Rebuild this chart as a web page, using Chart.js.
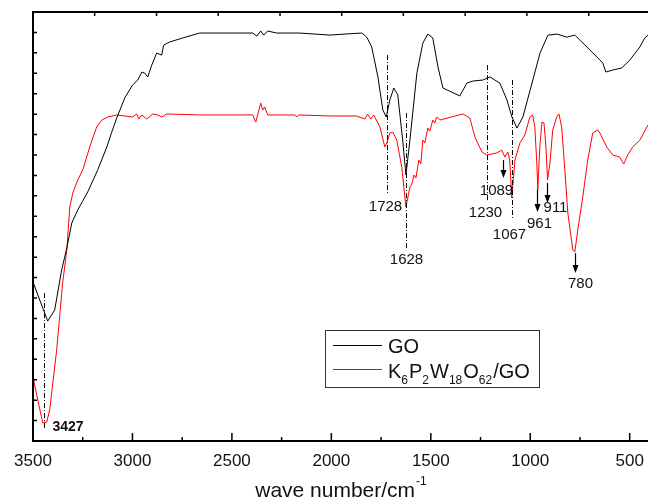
<!DOCTYPE html>
<html>
<head>
<meta charset="utf-8">
<script src="https://cdn.jsdelivr.net/npm/chart.js@4.4.0/dist/chart.umd.min.js"></script>
<style>
  html, body { margin: 0; padding: 0; background: #fff; }
  #grafico { display: block; }
</style>
</head>
<body>
<canvas id="grafico" width="648" height="501"></canvas>
<script>
// Espectro do GO: número de onda (cm-1) e transmitância relativa
const goX = [3500, 3466, 3426, 3391, 3356, 3330, 3305, 3275, 3225, 3175, 3129, 3104, 3079, 3039, 2999, 2973,
  2953, 2938, 2923, 2903, 2878, 2853, 2843, 2813, 2747, 2662, 2395, 2375, 2355, 2340, 2320, 2275, 2159, 2008,
  1933, 1847, 1822, 1797, 1766, 1741, 1724, 1706, 1686, 1666, 1640, 1625, 1605, 1570, 1540, 1515, 1490, 1464,
  1439, 1354, 1319, 1289, 1238, 1203, 1153, 1117, 1092, 1067, 1037, 987, 951, 911, 866, 816, 776, 751, 685,
  635, 620, 585, 540, 499, 449, 424, 408];
const goY = [7.78, 6.90, 5.87, 6.41, 8.37, 9.45, 10.67, 11.31, 12.19, 13.26, 14.39, 15.12, 15.81, 16.79, 17.43, 17.67,
  18.06, 18.01, 17.82, 18.40, 18.99, 18.89, 19.38, 19.53, 19.73, 19.97, 19.97, 19.82, 20.07, 19.87, 20.07, 19.97, 19.97, 19.87,
  19.92, 19.97, 19.77, 19.29, 17.82, 16.20, 15.86, 16.69, 17.28, 16.94, 14.59, 13.02, 14.73, 18.01, 19.48, 19.92, 19.73, 18.31,
  17.28, 16.89, 17.52, 17.62, 17.67, 17.82, 17.52, 16.69, 15.86, 15.32, 15.86, 17.67, 18.99, 19.87, 19.92, 19.77, 19.87, 19.63, 18.99,
  18.50, 18.06, 18.16, 18.26, 18.65, 19.29, 19.73, 19.87];

// Espectro do K6P2W18O62/GO
const hybridX = [3500, 3476, 3451, 3431, 3416, 3381, 3351, 3330, 3315, 3300, 3275, 3250, 3215, 3180, 3154, 3124,
  3079, 2999, 2979, 2968, 2953, 2928, 2898, 2873, 2853, 2827, 2662, 2395, 2380, 2355, 2345, 2335, 2320, 2184,
  2174, 2164, 2008, 1873, 1832, 1817, 1802, 1787, 1756, 1731, 1721, 1706, 1691, 1671, 1646, 1625, 1605, 1595,
  1585, 1575, 1560, 1550, 1540, 1530, 1515, 1505, 1490, 1480, 1470, 1455, 1339, 1304, 1278, 1243, 1218, 1168,
  1143, 1128, 1113, 1103, 1093, 1077, 1052, 1027, 1002, 988, 977, 967, 962, 952, 941, 931, 921, 913, 901, 887,
  867, 856, 842, 826, 811, 786, 776, 761, 736, 711, 686, 660, 650, 615, 585, 550, 530, 510, 485, 449, 408];
const hybridY = [3.13, 2.01, 0.88, 0.93, 1.52, 4.45, 7.73, 9.35, 11.45, 12.14, 12.78, 13.26, 14.39, 15.37, 15.71, 15.86,
  15.96, 15.86, 16.01, 15.76, 15.96, 15.76, 16.01, 15.96, 15.86, 16.01, 15.96, 15.96, 15.61, 16.54, 16.20, 16.35, 15.96, 15.96,
  15.86, 15.96, 15.91, 15.91, 15.76, 16.00, 15.76, 15.96, 15.37, 14.39, 14.59, 15.08, 15.12, 14.73, 13.41, 11.45, 12.43, 12.58,
  13.02, 12.87, 13.75, 13.56, 14.73, 14.59, 15.32, 15.17, 15.71, 15.57, 15.86, 15.71, 16.01, 15.81, 14.88, 14.15, 14.00, 14.10,
  14.24, 13.90, 14.15, 13.75, 11.89, 13.75, 14.59, 14.98, 15.86, 15.96, 15.37, 13.61, 12.29, 14.39, 15.61, 15.57, 14.39, 12.78, 13.61, 15.22,
  15.86, 16.01, 15.37, 13.26, 11.16, 9.35, 9.25, 10.33, 11.94, 13.75, 15.08, 15.22, 15.08, 14.39, 14.00, 13.90, 13.56, 14.00, 14.39, 14.73, 15.47];

const xTicks = [3500, 3000, 2500, 2000, 1500, 1000, 500];
const xMinorTicks = [3250, 2750, 2250, 1750, 1250, 750];
const topTicks = [3500, 3190, 2879, 2569, 2258, 1948, 1638, 1327, 1017, 706];

// Picos marcados: posição, início e fim da linha (ou seta)
const peakNames = ['3427', '1728', '1628', '1230', '1089', '1067', '961', '911', '780'];
const peakX = [3446, 1722, 1625, 1219, 1139, 1091, 965, 918, 775];
const peakTop = [7.24, 18.89, 16.05, 18.40, 13.75, 17.67, 12.29, 12.63, 9.20];
const peakBottom = [0.54, 12.14, 9.35, 11.70, 12.87, 10.92, 11.21, 11.65, 8.22];
const peakArrow = [false, false, false, false, true, false, true, true, true];
// deslocamento do texto em relação à ponta (px)
const peakOffset = [[8, -3], [-2, 14], [0, 10], [-2, 11], [-7, 13], [-3, 17], [2, 12], [8, 5], [5, 11]];

const FONTE = '"Liberation Sans", Arial, sans-serif';

function pontos(xs, ys) {
    return xs.map((x, i) => ({ x: x, y: ys[i] }));
}

// Moldura com os ticks para dentro (estilo Origin)
const moldura = {
    id: 'moldura',
    afterDraw(chart) {
        const ctx = chart.ctx;
        const a = chart.chartArea;
        const sx = chart.scales.x;
        const sy = chart.scales.y;
        ctx.save();
        ctx.strokeStyle = '#000';
        ctx.lineWidth = 2;
        ctx.beginPath();
        ctx.moveTo(a.right + 2, a.top);
        ctx.lineTo(a.left, a.top);
        ctx.lineTo(a.left, a.bottom);
        ctx.lineTo(a.right + 2, a.bottom);
        ctx.stroke();

        ctx.lineWidth = 1.5;
        ctx.beginPath();
        xTicks.forEach(v => {
            const px = sx.getPixelForValue(v);
            ctx.moveTo(px, a.bottom);
            ctx.lineTo(px, a.bottom - 8);
        });
        xMinorTicks.forEach(v => {
            const px = sx.getPixelForValue(v);
            ctx.moveTo(px, a.bottom);
            ctx.lineTo(px, a.bottom - 4);
        });
        topTicks.forEach(v => {
            const px = sx.getPixelForValue(v);
            ctx.moveTo(px, a.top);
            ctx.lineTo(px, a.top + 4);
        });
        for (let v = 0; v <= 21; v++) {
            const py = sy.getPixelForValue(v);
            ctx.moveTo(a.left, py);
            ctx.lineTo(a.left + 4, py);
        }
        ctx.stroke();

        // título do eixo x com expoente
        const titulo = 'wave number/cm';
        const expoente = '-1';
        ctx.fillStyle = '#111';
        ctx.textBaseline = 'alphabetic';
        ctx.textAlign = 'left';
        ctx.font = '21px ' + FONTE;
        const w1 = ctx.measureText(titulo).width;
        ctx.font = '12px ' + FONTE;
        const w2 = ctx.measureText(expoente).width;
        const x0 = (a.left + a.right) / 2 - (w1 + w2) / 2;
        ctx.font = '21px ' + FONTE;
        ctx.fillText(titulo, x0, 497);
        ctx.font = '12px ' + FONTE;
        ctx.fillText(expoente, x0 + w1 + 1, 485);

        // legenda
        ctx.strokeStyle = '#333';
        ctx.lineWidth = 1;
        ctx.strokeRect(325.5, 330.5, 214, 57);
        ctx.lineWidth = 1;
        ctx.strokeStyle = chart.data.datasets[0].borderColor;
        ctx.beginPath(); ctx.moveTo(333, 345.5); ctx.lineTo(382, 345.5); ctx.stroke();
        ctx.strokeStyle = chart.data.datasets[1].borderColor;
        ctx.beginPath(); ctx.moveTo(333, 369.5); ctx.lineTo(382, 369.5); ctx.stroke();
        ctx.font = '20px ' + FONTE;
        ctx.fillText('GO', 388, 352.5);
        let cx = 388;
        const partes = [['K', 0], ['6', 1], ['P', 0], ['2', 1], ['W', 0], ['18', 1], ['O', 0], ['62', 1], ['/GO', 0]];
        partes.forEach(p => {
            if (p[1]) {
                ctx.font = '12px ' + FONTE;
                ctx.fillText(p[0], cx, 384);
            } else {
                ctx.font = '20px ' + FONTE;
                ctx.fillText(p[0], cx, 378);
            }
            cx += ctx.measureText(p[0]).width + (p[1] ? 1 : 0);
        });
        ctx.restore();
    }
};

// Linhas traço-ponto, setas e números dos picos
const picos = {
    id: 'picos',
    afterDatasetsDraw(chart) {
        const ctx = chart.ctx;
        const sx = chart.scales.x;
        const sy = chart.scales.y;
        ctx.save();
        peakNames.forEach((nome, i) => {
            const px = Math.round(sx.getPixelForValue(peakX[i])) + 0.5;
            const y0 = sy.getPixelForValue(peakTop[i]);
            const y1 = sy.getPixelForValue(peakBottom[i]);
            ctx.strokeStyle = '#000';
            ctx.fillStyle = '#000';
            if (peakArrow[i]) {
                ctx.setLineDash([]);
                ctx.lineWidth = 1.2;
                ctx.beginPath();
                ctx.moveTo(px, y0);
                ctx.lineTo(px, y1 - 7);
                ctx.stroke();
                ctx.beginPath();
                ctx.moveTo(px - 3, y1 - 8);
                ctx.lineTo(px + 3, y1 - 8);
                ctx.lineTo(px, y1);
                ctx.closePath();
                ctx.fill();
            } else {
                ctx.setLineDash([5, 2, 1, 2]);
                ctx.lineWidth = 1;
                ctx.beginPath();
                ctx.moveTo(px, y0);
                ctx.lineTo(px, y1);
                ctx.stroke();
            }
            ctx.setLineDash([]);
            ctx.fillStyle = '#111';
            ctx.textBaseline = 'middle';
            if (i === 0) {
                ctx.font = 'bold 14px ' + FONTE;
                ctx.textAlign = 'left';
            } else {
                ctx.font = '15px ' + FONTE;
                ctx.textAlign = 'center';
            }
            ctx.fillText(nome, px + peakOffset[i][0], y1 + peakOffset[i][1]);
        });
        ctx.restore();
    }
};

const config = {
    type: 'line',
    data: {
        datasets: [
            {
                label: 'GO',
                data: pontos(goX, goY),
                borderColor: '#000000',
                borderWidth: 1,
                pointRadius: 0,
                tension: 0,
                fill: false
            },
            {
                label: 'K6P2W18O62/GO',
                data: pontos(hybridX, hybridY),
                borderColor: '#ff0000',
                borderWidth: 1,
                pointRadius: 0,
                tension: 0,
                fill: false
            }
        ]
    },
    options: {
        responsive: false,
        animation: false,
        devicePixelRatio: 1,
        layout: { padding: { left: 33, top: 12, right: 0, bottom: 0 } },
        plugins: {
            legend: { display: false },
            tooltip: { enabled: false }
        },
        scales: {
            x: {
                type: 'linear',
                reverse: true,
                min: 408,
                max: 3500,
                grid: { display: false },
                border: { display: false },
                afterBuildTicks: scale => {
                    scale.ticks = xTicks.map(v => ({ value: v }));
                },
                afterFit: scale => {
                    scale.height = 60;
                    scale.paddingLeft = 0;
                    scale.paddingRight = 0;
                },
                ticks: {
                    autoSkip: false,
                    maxRotation: 0,
                    padding: 2,
                    color: '#111',
                    font: { family: FONTE, size: 17 },
                    callback: value => String(value)
                }
            },
            y: {
                display: false,
                min: 0,
                max: 21
            }
        }
    },
    plugins: [picos, moldura]
};

const ctx = document.getElementById('grafico');
const meuGrafico = new Chart(ctx, config);
</script>
</body>
</html>
